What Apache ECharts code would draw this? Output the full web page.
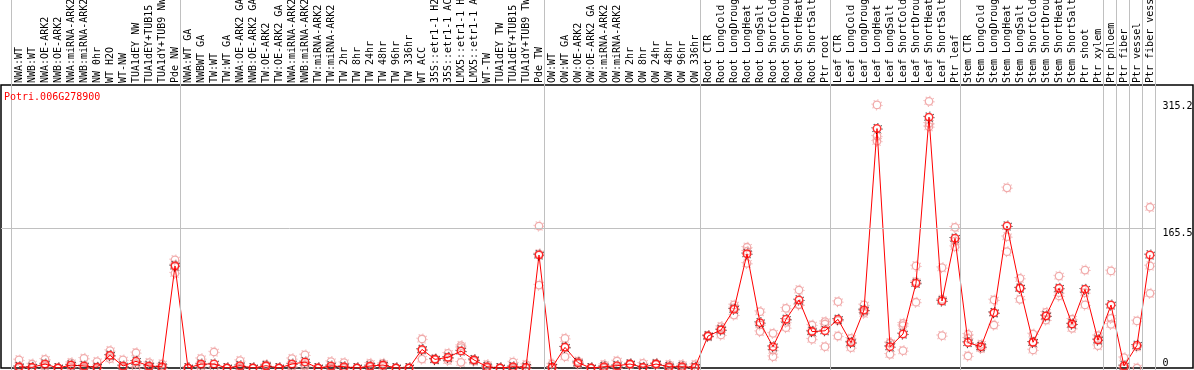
<!DOCTYPE html>
<html><head><meta charset="utf-8">
<script src="https://cdn.jsdelivr.net/npm/echarts@6/dist/echarts.min.js"></script>
<style>html,body{margin:0;padding:0;background:#fff}#c{width:1194px;height:370px}</style>
</head><body><div id="c"></div>
<script>
const geneId = 'Potri.006G278900';
const categories = [
 'NWA:WT','NWB:WT','NWA:OE-ARK2','NWB:OE-ARK2','NWA:miRNA-ARK2','NWB:miRNA-ARK2','NW 0hr','WT H2O','WT-NW','TUA1dEY NW','TUA1dEY+TUB15 NW','TUA1dY+TUB9 NW','Pde NW',
 'NWA:WT GA','NWBWT GA','TW:WT','TW:WT GA','NWA:OE-ARK2 GA','NWB:OE-ARK2 GA','TW:OE-ARK2','TW:OE-ARK2 GA','NWA:miRNA-ARK2 GA','NWB:miRNA-ARK2 GA','TW:miRNA-ARK2','TW:miRNA-ARK2','TW 2hr','TW 8hr','TW 24hr','TW 48hr','TW 96hr','TW 336hr','WT ACC','35S::etr1-1 H2O','35S::etr1-1 ACC','LMX5::etr1-1 H2O','LMX5::etr1-1 ACC','WT-TW','TUA1dEY TW','TUA1dEY+TUB15 TW','TUA1dY+TUB9 TW','Pde TW',
 'OW:WT','OW:WT GA','OW:OE-ARK2','OW:OE-ARK2 GA','OW:miRNA-ARK2','OW:miRNA-ARK2','OW 2hr','OW 8hr','OW 24hr','OW 48hr','OW 96hr','OW 336hr',
 'Root CTR','Root LongCold','Root LongDrought','Root LongHeat','Root LongSalt','Root ShortCold','Root ShortDrought','Root ShortHeat','Root ShortSalt','Ptr root',
 'Leaf CTR','Leaf LongCold','Leaf LongDrought','Leaf LongHeat','Leaf LongSalt','Leaf ShortCold','Leaf ShortDrought','Leaf ShortHeat','Leaf ShortSalt','Ptr leaf',
 'Stem CTR','Stem LongCold','Stem LongDrought','Stem LongHeat','Stem LongSalt','Stem ShortCold','Stem ShortDrought','Stem ShortHeat','Stem ShortSalt','Ptr shoot','Ptr xylem',
 'Ptr phloem','Ptr fiber','Ptr vessel','Ptr fiber vessel'
];
const means = [
 1.5,0.8,4.7,0,3.5,2.4,0.8,15,2.4,7.9,2.4,1.5,120.6,
 0,4.7,4.7,0,2.7,0,2.7,0,4.7,7.1,0,2.4,1.5,0,2.4,3.5,0,0,22,10.2,12.6,20,9.5,1.5,0,1.5,0.8,133.6,
 0.8,24.4,6.3,0,1.5,2.7,4.7,0.8,4.7,1.5,1.5,0.8,
 37.8,44.9,69.4,135,53.6,25.2,57.5,80.4,43,44,
 57.5,30,68.6,283,25.2,40.2,100.1,296.5,79.2,153.3,
 30,25.2,65.4,167.8,94.2,30.4,61.5,94.2,52,93,33,
 74.5,2.4,26.8,133.6
];
const rep1 = [
 9.5,4.7,10.2,0,6.3,11.4,7.5,20.5,9.5,18,6.3,4.7,127.7,
 0,11,18.9,0,8.7,0,4,0,11,15.4,0,7.5,6.3,0,5.5,5.5,0,0,34.3,11,17.3,26.4,8,4,0,7,4,167.8,
 4.7,35,8,0,4,8.3,5,5.5,5.5,4,4,4,
 38.5,48.9,74.5,142.7,66.6,41,70.5,92.2,50.8,54.7,
 78.4,35,74.5,311,29.2,52.8,120.6,315.2,118.6,166.3,
 39.8,28,80.4,213,106,40.2,65.8,108.7,57.6,115.8,38.2,
 114.7,12.2,55.6,190
];
const rep2 = [
 0.5,0,3,0,3,0,0,14,0,5,1,0,112,
 0,3,0,0,0,0,2,0,2,4,0,0,0,0,1,3,0,0,10.6,10,9,6.7,10,0,0,0,0,98,
 0,13.4,5,0,0,0,4,0,4,0,0,0,
 37,39,62.6,123.7,43,13.4,47.7,74.5,34,25.2,
 37.8,24,64.7,274,16.2,50,77.7,289.2,38.2,143.4,
 35.1,23,50.8,155.2,81.2,21.3,56.7,85.1,46.9,74.5,26.4,
 58.7,0,0,120.6
];
const rep3 = [
 0,0,1,0,1,0,0,11,0,0,0,0,122,
 0,0,0,0,0,0,2,0,1,2,0,0,0,0,1,2,0,0,21,9.5,11.5,24,10,0,0,0,0,135,
 0,25,5,0,0,0,4,0,4,0,0,0,
 38,46,71,138,51,21,54,75,44,52,
 56,31,67,268,30,20.5,102,285.2,81,150,
 14.2,25,65,137.5,95,30,62,89,52,89,34,
 51.6,0,25,88.3
];
const groupSizes = [13,28,12,10,10,11,1,1,1,1];
const yTickValues = [165.5, 315.2];
const yZeroTick = [0];
const gridLineValue = 165.5;

const FONT = 'DejaVu Sans Mono';
const W = 1194;
const plotLeft = 12.5, step = 13, plotTop = 85, plotBottomGap = 2, frameLeft = 1, frameRight = 1;
const n = categories.length;
const plotWidth = n * step;
const yMax = 334.5;
const xMinFull = -0.5 - (plotLeft - frameLeft) / step;
const xMaxFull = n - 0.5 + (W - frameRight - (plotLeft + plotWidth)) / step;
const sepOffset = 5 / step;
const separators = [-1 + sepOffset];
let acc = -1;
groupSizes.forEach(g => { acc += g; separators.push(acc + sepOffset); });

const pink = 'rgb(238,150,150)';
const repData = [];
[rep1, rep2, rep3].forEach(r => r.forEach((v, i) => { if (v != null) repData.push([i, v]); }));
const meanData = means.map((v, i) => [i, v]);

const noBounds = {outerBoundsMode: 'none', containLabel: false};
const chart = echarts.init(document.getElementById('c'), null, {renderer: 'canvas'});
chart.setOption({
  animation: false,
  title: {text: geneId, left: 4, top: 92, padding: 0,
    textStyle: {color: '#ff0000', fontSize: 10, fontFamily: FONT, fontWeight: 'normal'}},
  grid: [
    Object.assign({left: plotLeft, top: plotTop, width: plotWidth, bottom: plotBottomGap, show: false}, noBounds),
    Object.assign({left: frameLeft, right: frameRight, top: plotTop, bottom: plotBottomGap, show: true, borderColor: '#000', borderWidth: 1.5, backgroundColor: 'transparent'}, noBounds),
    Object.assign({left: frameLeft, right: frameRight, top: 0, bottom: 0, show: false}, noBounds),
    Object.assign({left: plotLeft, top: plotTop, width: plotWidth, bottom: plotBottomGap, show: false}, noBounds)
  ],
  xAxis: [
    {type: 'category', gridIndex: 0, position: 'top', data: categories, boundaryGap: true,
      axisLine: {show: false}, axisTick: {show: false}, splitLine: {show: false},
      axisLabel: {rotate: 90, interval: 0, margin: 2, fontSize: 10, fontFamily: FONT, color: '#000'}},
    {type: 'value', gridIndex: 1, min: xMinFull, max: xMaxFull, show: false},
    {type: 'value', gridIndex: 2, min: xMinFull, max: xMaxFull, show: false},
    {type: 'category', gridIndex: 3, data: categories, show: false}
  ],
  yAxis: [
    {type: 'value', gridIndex: 0, min: 0, max: yMax, position: 'right',
      axisLine: {show: false}, axisTick: {show: false}, splitLine: {show: false},
      axisLabel: {customValues: yTickValues, margin: 6, verticalAlign: 'top', lineHeight: 10,
        fontSize: 10, fontFamily: FONT, color: '#000', formatter: v => String(v)}},
    {type: 'value', gridIndex: 1, min: 0, max: yMax, show: false},
    {type: 'value', gridIndex: 2, min: 0, max: 1, show: false},
    {type: 'value', gridIndex: 3, min: 0, max: yMax, position: 'right',
      axisLine: {show: false}, axisTick: {show: false}, splitLine: {show: false},
      axisLabel: {customValues: yZeroTick, margin: 6, verticalAlign: 'bottom', fontSize: 10, fontFamily: FONT, color: '#000',
        formatter: v => String(v)}}
  ],
  series: [
    {type: 'line', xAxisIndex: 2, yAxisIndex: 2, data: [], silent: true,
      markLine: {symbol: ['none', 'none'], silent: true, animation: false, label: {show: false},
        lineStyle: {color: '#c0c0c0', width: 1, type: 'solid'},
        data: separators.map(v => ({xAxis: v}))}},
    {type: 'line', xAxisIndex: 1, yAxisIndex: 1, data: [], silent: true,
      markLine: {symbol: ['none', 'none'], silent: true, animation: false, label: {show: false},
        lineStyle: {color: '#c0c0c0', width: 1, type: 'solid'},
        data: [[{coord: [xMinFull, gridLineValue]}, {coord: [separators[separators.length - 1], gridLineValue]}]]}},
    {type: 'scatter', xAxisIndex: 0, yAxisIndex: 0, data: repData, symbol: 'circle', symbolSize: 10, z: 2,
      itemStyle: {color: 'rgba(0,0,0,0)', borderColor: pink, borderWidth: 1.1, borderType: [1, 2.9]}},
    {type: 'scatter', xAxisIndex: 0, yAxisIndex: 0, data: repData, symbol: 'circle', symbolSize: 7.5, z: 2,
      itemStyle: {color: 'rgba(0,0,0,0)', borderColor: pink, borderWidth: 1.3}},
    {type: 'line', xAxisIndex: 0, yAxisIndex: 0, data: means, showSymbol: false, symbol: 'none', z: 3,
      lineStyle: {color: '#ff0000', width: 1}},
    {type: 'scatter', xAxisIndex: 0, yAxisIndex: 0, data: meanData, symbol: 'circle', symbolSize: 10, z: 4,
      itemStyle: {color: 'rgba(0,0,0,0)', borderColor: '#000', borderWidth: 1.1, borderType: [1, 2.9]}},
    {type: 'scatter', xAxisIndex: 0, yAxisIndex: 0, data: meanData, symbol: 'circle', symbolSize: 7.5, z: 5,
      itemStyle: {color: 'rgba(0,0,0,0)', borderColor: '#ff0000', borderWidth: 1.5}}
  ]
});
</script></body></html>
